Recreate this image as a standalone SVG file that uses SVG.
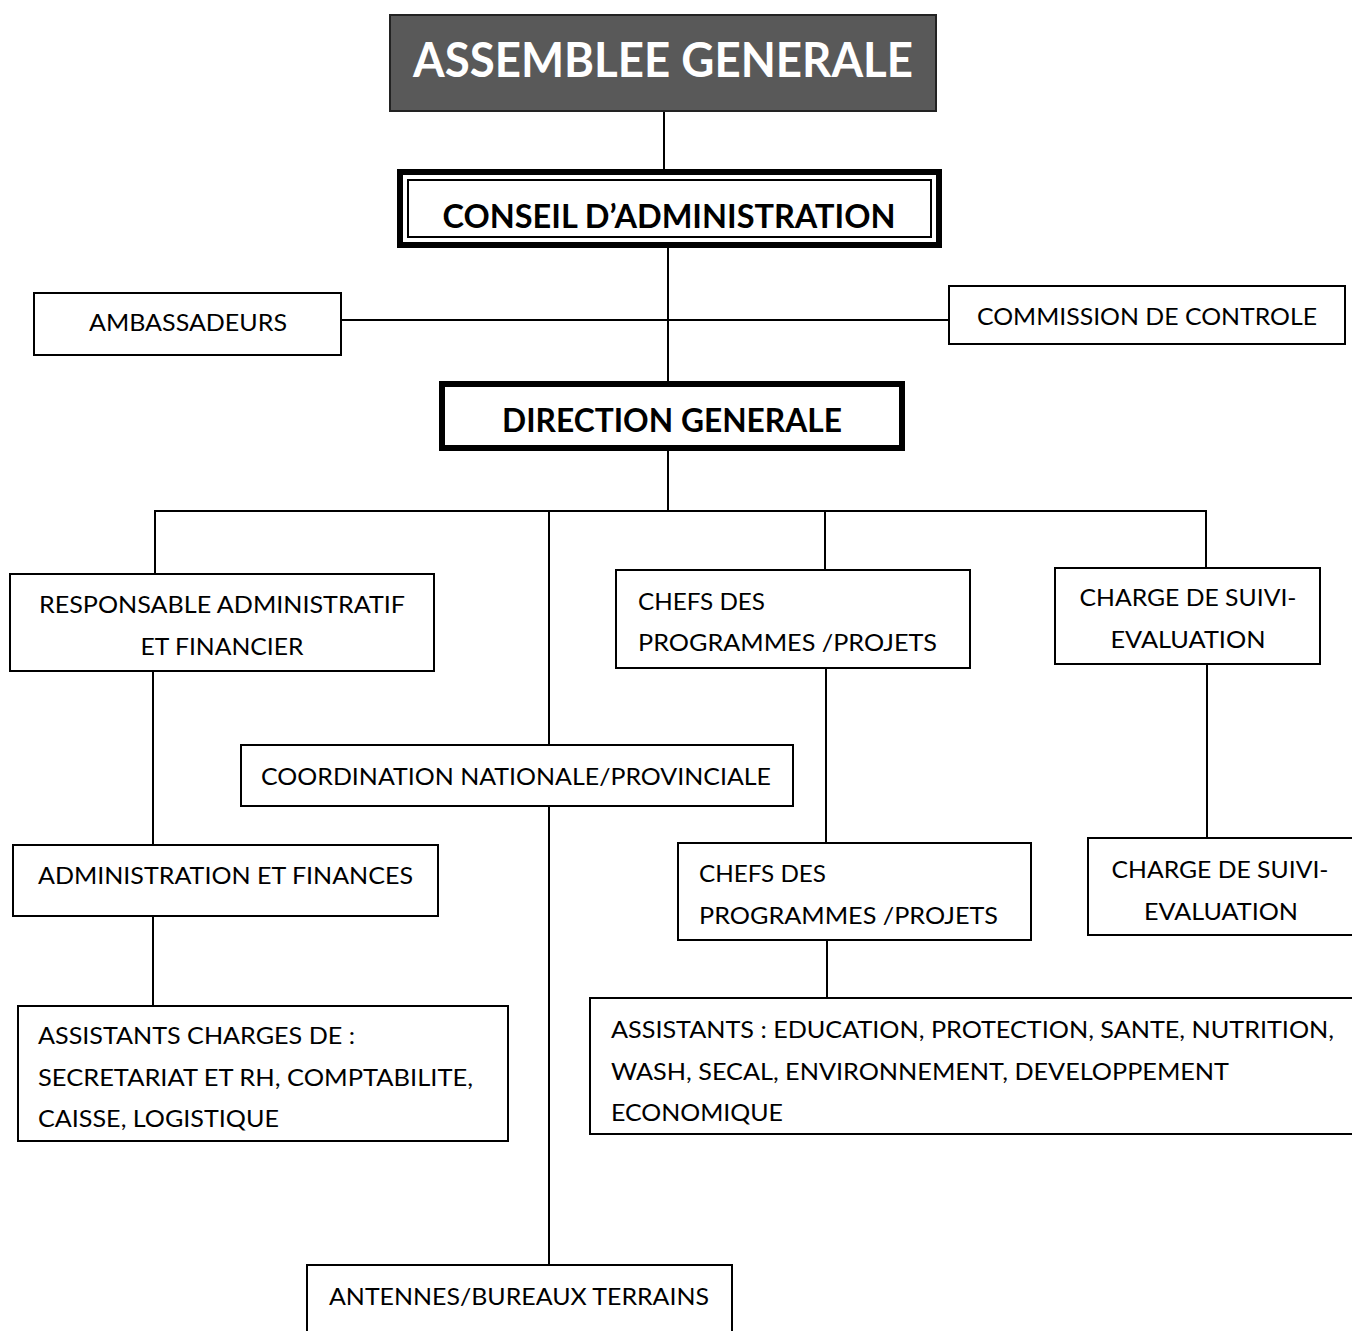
<svg xmlns="http://www.w3.org/2000/svg" width="1352" height="1331" viewBox="0 0 1352 1331">
<style>
.box{fill:#fff;stroke:#000;stroke-width:2}
.t{font-family:Lato,"Open Sans","Liberation Sans",sans-serif;font-size:24px;fill:#000}
.tc{text-anchor:middle}
.b{font-family:Lato,"Open Sans","Liberation Sans",sans-serif;font-weight:bold;fill:#000;text-anchor:middle}
.ln{stroke:#000;stroke-width:2;fill:none}
</style>
<rect width="1352" height="1331" fill="#fff"/>
<g id="connectors">
<line class="ln" x1="664" y1="111" x2="664" y2="170"/>
<line class="ln" x1="668" y1="248" x2="668" y2="381"/>
<line class="ln" x1="341" y1="320" x2="949" y2="320"/>
<line class="ln" x1="668" y1="451" x2="668" y2="511"/>
<line class="ln" x1="154" y1="511" x2="1207" y2="511"/>
<line class="ln" x1="155" y1="511" x2="155" y2="574"/>
<line class="ln" x1="549" y1="511" x2="549" y2="745"/>
<line class="ln" x1="825" y1="511" x2="825" y2="570"/>
<line class="ln" x1="1206" y1="510" x2="1206" y2="568"/>
<line class="ln" x1="153" y1="671" x2="153" y2="845"/>
<line class="ln" x1="549" y1="806" x2="549" y2="1265"/>
<line class="ln" x1="826" y1="668" x2="826" y2="843"/>
<line class="ln" x1="1207" y1="664" x2="1207" y2="838"/>
<line class="ln" x1="153" y1="916" x2="153" y2="1006"/>
<line class="ln" x1="827" y1="940" x2="827" y2="998"/>
</g>
<g id="assemblee">
<rect x="390" y="15" width="546" height="96" fill="#595959" stroke="#222" stroke-width="2"/>
<text class="b" x="663" y="77" font-size="48" style="fill:#fff" textLength="500" lengthAdjust="spacingAndGlyphs">ASSEMBLEE GENERALE</text>
</g>
<g id="conseil">
<rect x="400" y="172" width="539" height="73" fill="#fff" stroke="#000" stroke-width="6"/>
<rect x="408" y="180" width="523" height="57" fill="none" stroke="#000" stroke-width="2"/>
<text class="b" x="669" y="228" font-size="33" textLength="453" lengthAdjust="spacingAndGlyphs">CONSEIL D’ADMINISTRATION</text>
</g>
<g id="ambassadeurs">
<rect class="box" x="34" y="293" width="307" height="62"/>
<text class="t tc" x="188" y="331" textLength="198" lengthAdjust="spacingAndGlyphs">AMBASSADEURS</text>
</g>
<g id="commission">
<rect class="box" x="949" y="286" width="396" height="58"/>
<text class="t" x="977" y="325" textLength="340" lengthAdjust="spacingAndGlyphs">COMMISSION DE CONTROLE</text>
</g>
<g id="direction">
<rect x="442" y="384" width="460" height="64" fill="#fff" stroke="#000" stroke-width="6"/>
<text class="b" x="672" y="432" font-size="33" textLength="340" lengthAdjust="spacingAndGlyphs">DIRECTION GENERALE</text>
</g>
<g id="responsable">
<rect class="box" x="10" y="574" width="424" height="97"/>
<text class="t tc" x="222" y="613" textLength="366" lengthAdjust="spacingAndGlyphs">RESPONSABLE ADMINISTRATIF</text>
<text class="t tc" x="222" y="655" textLength="163" lengthAdjust="spacingAndGlyphs">ET FINANCIER</text>
</g>
<g id="chefs1">
<rect class="box" x="616" y="570" width="354" height="98"/>
<text class="t" x="638" y="610" textLength="127" lengthAdjust="spacingAndGlyphs">CHEFS DES</text>
<text class="t" x="638" y="651" textLength="299" lengthAdjust="spacingAndGlyphs">PROGRAMMES /PROJETS</text>
</g>
<g id="charge1">
<rect class="box" x="1055" y="568" width="265" height="96"/>
<text class="t tc" x="1188" y="606" textLength="217" lengthAdjust="spacingAndGlyphs">CHARGE DE SUIVI-</text>
<text class="t tc" x="1188" y="648" textLength="155" lengthAdjust="spacingAndGlyphs">EVALUATION</text>
</g>
<g id="coordination">
<rect class="box" x="241" y="745" width="552" height="61"/>
<text class="t" x="261" y="785" textLength="510" lengthAdjust="spacingAndGlyphs">COORDINATION NATIONALE/PROVINCIALE</text>
</g>
<g id="admin-finances">
<rect class="box" x="13" y="845" width="425" height="71"/>
<text class="t" x="38" y="884" textLength="375" lengthAdjust="spacingAndGlyphs">ADMINISTRATION ET FINANCES</text>
</g>
<g id="chefs2">
<rect class="box" x="678" y="843" width="353" height="97"/>
<text class="t" x="699" y="882" textLength="127" lengthAdjust="spacingAndGlyphs">CHEFS DES</text>
<text class="t" x="699" y="924" textLength="299" lengthAdjust="spacingAndGlyphs">PROGRAMMES /PROJETS</text>
</g>
<g id="charge2">
<rect class="box" x="1088" y="838" width="266" height="97"/>
<text class="t tc" x="1220" y="878" textLength="217" lengthAdjust="spacingAndGlyphs">CHARGE DE SUIVI-</text>
<text class="t tc" x="1221" y="920" textLength="154" lengthAdjust="spacingAndGlyphs">EVALUATION</text>
</g>
<g id="assistants-admin">
<rect class="box" x="18" y="1006" width="490" height="135"/>
<text class="t" x="38" y="1044" textLength="317" lengthAdjust="spacingAndGlyphs">ASSISTANTS CHARGES DE :</text>
<text class="t" x="38" y="1086" textLength="435" lengthAdjust="spacingAndGlyphs">SECRETARIAT ET RH, COMPTABILITE,</text>
<text class="t" x="38" y="1127" textLength="241" lengthAdjust="spacingAndGlyphs">CAISSE, LOGISTIQUE</text>
</g>
<g id="assistants-programmes">
<rect class="box" x="590" y="998" width="780" height="136"/>
<text class="t" x="611" y="1038" textLength="723" lengthAdjust="spacingAndGlyphs">ASSISTANTS : EDUCATION, PROTECTION, SANTE, NUTRITION,</text>
<text class="t" x="611" y="1080" textLength="618" lengthAdjust="spacingAndGlyphs">WASH, SECAL, ENVIRONNEMENT, DEVELOPPEMENT</text>
<text class="t" x="611" y="1121" textLength="172" lengthAdjust="spacingAndGlyphs">ECONOMIQUE</text>
</g>
<g id="antennes">
<rect class="box" x="307" y="1265" width="425" height="80"/>
<text class="t tc" x="519" y="1305" textLength="380" lengthAdjust="spacingAndGlyphs">ANTENNES/BUREAUX TERRAINS</text>
</g>
</svg>
